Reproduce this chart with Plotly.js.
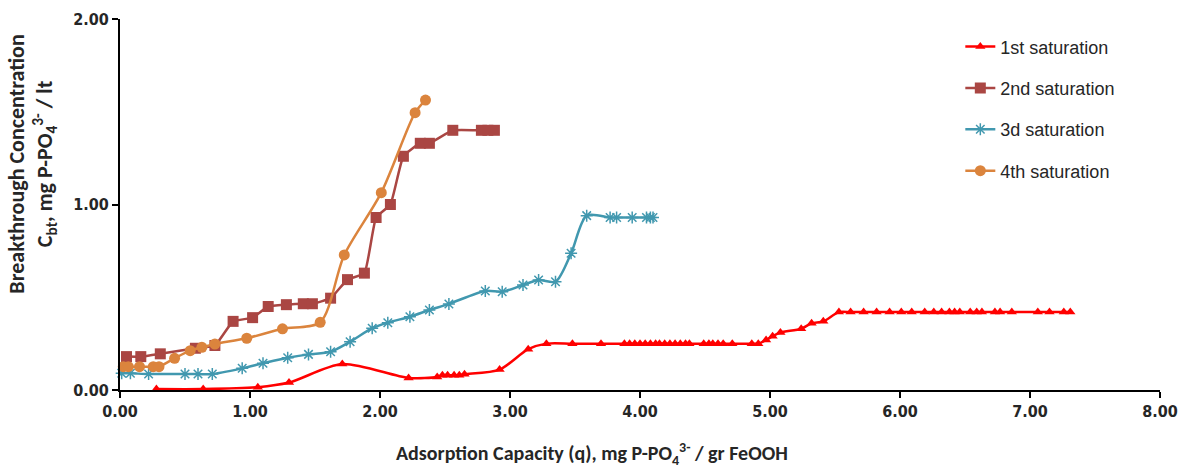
<!DOCTYPE html>
<html>
<head>
<meta charset="utf-8">
<script src="https://cdn.plot.ly/plotly-3.0.1.min.js"></script>
<style>html,body{margin:0;padding:0;background:#fff;}#chart{width:1181px;height:469px;}</style>
</head>
<body>
<div id="chart"></div>
<script>
// Data
const seriesNames = ["1st saturation", "2nd saturation", "3d saturation", "4th saturation"];

const s1x = [0.28, 0.64, 1.06, 1.30, 1.71, 2.22, 2.44, 2.48, 2.52, 2.57, 2.61, 2.65, 2.92, 3.14, 3.28, 3.48, 3.70,
  3.88, 3.92, 3.96, 4.00, 4.04, 4.08, 4.12, 4.15, 4.19, 4.23, 4.27, 4.31, 4.35, 4.38, 4.49, 4.53, 4.56, 4.60, 4.64, 4.71,
  4.86, 4.91, 4.97, 5.02, 5.08, 5.24, 5.32, 5.41, 5.53, 5.62, 5.72, 5.82, 5.92, 6.01, 6.09, 6.19, 6.26, 6.32, 6.38,
  6.42, 6.46, 6.54, 6.59, 6.63, 6.73, 6.77, 6.86, 7.06, 7.15, 7.26, 7.31];
const s1y = [0.005, 0.005, 0.015, 0.04, 0.14, 0.065, 0.07, 0.08, 0.08, 0.08, 0.08, 0.085, 0.11, 0.22, 0.25, 0.25, 0.25,
  0.25, 0.25, 0.25, 0.25, 0.25, 0.25, 0.25, 0.25, 0.25, 0.25, 0.25, 0.25, 0.25, 0.25, 0.25, 0.25, 0.25, 0.25, 0.25, 0.25,
  0.25, 0.25, 0.27, 0.29, 0.31, 0.33, 0.36, 0.37, 0.42, 0.42, 0.42, 0.42, 0.42, 0.42, 0.42, 0.42, 0.42, 0.42, 0.42,
  0.42, 0.42, 0.42, 0.42, 0.42, 0.42, 0.42, 0.42, 0.42, 0.42, 0.42, 0.42];

const s2x = [0.05, 0.16, 0.31, 0.58, 0.73, 0.87, 1.02, 1.14, 1.28, 1.41, 1.48, 1.62, 1.75, 1.88, 1.97, 2.08, 2.18, 2.31, 2.38, 2.56, 2.78, 2.83, 2.88];
const s2y = [0.18, 0.18, 0.195, 0.225, 0.24, 0.37, 0.39, 0.45, 0.46, 0.465, 0.465, 0.495, 0.595, 0.63, 0.93, 1.0, 1.26, 1.33, 1.33, 1.40, 1.40, 1.40, 1.40];

const s3x = [0.013, 0.08, 0.22, 0.50, 0.60, 0.71, 0.94, 1.10, 1.29, 1.45, 1.62, 1.77, 1.94, 2.06, 2.23, 2.38, 2.53, 2.81, 2.94, 3.10, 3.22, 3.35, 3.47, 3.59, 3.77, 3.82, 3.94, 4.05, 4.08, 4.10];
const s3y = [0.09, 0.09, 0.086, 0.086, 0.086, 0.086, 0.117, 0.144, 0.174, 0.192, 0.206, 0.26, 0.333, 0.363, 0.395, 0.431, 0.464, 0.534, 0.53, 0.566, 0.593, 0.584, 0.737, 0.94, 0.93, 0.93, 0.93, 0.93, 0.93, 0.93];

const s4x = [0.025, 0.064, 0.15, 0.256, 0.30, 0.42, 0.54, 0.63, 0.73, 0.975, 1.25, 1.54, 1.725, 2.01, 2.27, 2.35];
const s4y = [0.126, 0.126, 0.126, 0.126, 0.126, 0.171, 0.212, 0.23, 0.248, 0.279, 0.33, 0.365, 0.728, 1.064, 1.495, 1.563];

const colors = ["#FF0000", "#AA4643", "#4198AF", "#DB843D"];
const xTicks = [0, 1, 2, 3, 4, 5, 6, 7, 8];
const yTicks = [0, 1, 2];

const xTitle = "<b>Adsorption Capacity (q), mg P-PO<sub>4</sub><sup>3-</sup> / gr FeOOH</b>";
const yTitle = "<b>Breakthrough Concentration<br>C<sub>bt</sub>, mg P-PO<sub>4</sub><sup>3-</sup> / lt</b>";

const narrow = "Carlito, 'Liberation Sans Narrow', 'DejaVu Sans Condensed', sans-serif";
const tickFam = "'Liberation Sans Narrow', 'DejaVu Sans Condensed', sans-serif";

function tr(i, x, y, sym, size, extra) {
  return Object.assign({
    type: "scatter", mode: "lines+markers", name: seriesNames[i], x: x, y: y,
    legendgroup: "g" + i, cliponaxis: false,
    line: {color: colors[i], width: 2.5, shape: "spline", smoothing: 0.8},
    marker: {symbol: sym, size: size, color: colors[i], line: {color: colors[i], width: 0}}
  }, extra || {});
}

const data = [
  tr(0, s1x, s1y, "triangle-up", 9),
  tr(1, s2x, s2y, "square", 11, {line: {color: colors[1], width: 2.5, shape: "spline", smoothing: 0.4}}),
  tr(2, s3x, s3y, "asterisk-open", 10, {marker: {symbol: "asterisk-open", size: 10, color: colors[2], line: {color: colors[2], width: 1.5}}}),
  tr(3, s4x, s4y, "circle", 11)
];

const lbl = v => "<b>" + v.toFixed(2) + "</b>";

const layout = {
  width: 1181, height: 469,
  margin: {l: 120, r: 21, t: 19, b: 79},
  paper_bgcolor: "#fff", plot_bgcolor: "#fff",
  showlegend: true,
  legend: {x: 0.808, y: 0.975, xanchor: "left", yanchor: "top", tracegroupgap: 15,
    font: {family: "'Liberation Sans', Arial, sans-serif", size: 18, color: "#262626"},
    bgcolor: "rgba(0,0,0,0)"},
  xaxis: {
    range: [0, 8], tickvals: xTicks, ticktext: xTicks.map(lbl), showgrid: false, zeroline: false,
    showline: true, linecolor: "#000", linewidth: 2, ticks: "outside", ticklen: 6, tickwidth: 2, tickcolor: "#000",
    tickfont: {family: tickFam, size: 16, color: "#262626", weight: 700}
  },
  yaxis: {
    range: [0, 2], tickvals: yTicks, ticktext: yTicks.map(lbl), showgrid: false, zeroline: false,
    showline: true, linecolor: "#000", linewidth: 2, ticks: "outside", ticklen: 6, tickwidth: 2, tickcolor: "#000",
    tickfont: {family: tickFam, size: 16, color: "#262626", weight: 700}
  },
  annotations: [
    {text: xTitle, xref: "paper", yref: "paper", x: 0.454, y: -0.172, xanchor: "center", yanchor: "middle",
      showarrow: false, font: {family: narrow, size: 20, color: "#262626"}},
    {text: yTitle, xref: "paper", yref: "paper", x: -0.085, y: 0.609, xanchor: "center", yanchor: "middle",
      textangle: -90, showarrow: false, font: {family: narrow, size: 22, color: "#262626"}}
  ]
};

Plotly.newPlot("chart", data, layout, {displayModeBar: false, staticPlot: true});
</script>
</body>
</html>
